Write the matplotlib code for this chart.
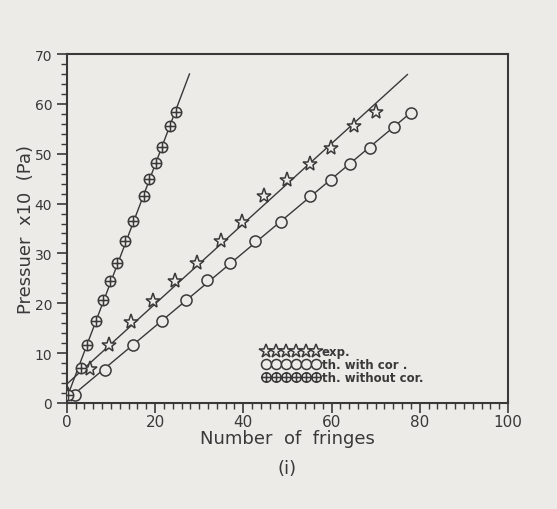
import numpy as np
import matplotlib
matplotlib.use("Agg")
import matplotlib.pyplot as plt
from matplotlib.path import Path
from matplotlib.ticker import MultipleLocator

# pressure readings (x10 Pa) vs number of fringes
exp_x = [0.3, 5.2, 9.6, 14.5, 19.6, 24.5, 29.5, 34.9, 39.7, 44.8, 49.9, 55.1, 59.9, 65.2, 70.0]
exp_y = [1.6, 6.8, 11.7, 16.2, 20.4, 24.4, 28.0, 32.5, 36.3, 41.5, 44.8, 47.9, 51.2, 55.5, 58.4]

cor_x = [1.8, 8.6, 15.1, 21.5, 27.0, 31.7, 37.0, 42.7, 48.5, 55.1, 59.8, 64.2, 68.7, 74.2, 78.1]
cor_y = [1.6, 6.7, 11.7, 16.4, 20.6, 24.6, 28.0, 32.4, 36.4, 41.6, 44.7, 48.0, 51.2, 55.4, 58.1]

nocor_x = [0.3, 3.3, 4.5, 6.5, 8.1, 9.8, 11.4, 13.2, 15.1, 17.5, 18.7, 20.2, 21.5, 23.4, 24.8]
nocor_y = [1.6, 7.0, 11.7, 16.4, 20.7, 24.4, 28.0, 32.5, 36.5, 41.6, 44.9, 48.1, 51.4, 55.5, 58.4]

# end of each fitted line (fringes)
line_end = {"exp": 77.2, "cor": 78.1, "nocor": 27.8}

paper = "#edebe8"
ink = "#3a3838"

# circle with a cross through it
circ = Path.unit_circle()
cross = Path([(-1, 0), (1, 0), (0, -1), (0, 1)],
             [Path.MOVETO, Path.LINETO, Path.MOVETO, Path.LINETO])
oplus = Path.make_compound_path(circ, cross)

fig = plt.figure(figsize=(5.57, 5.10), dpi=100, facecolor=paper)
ax = fig.add_axes([0.120, 0.208, 0.792, 0.684], facecolor=paper)

series = [
    ("exp", exp_x, exp_y, "*", 11, "exp."),
    ("cor", cor_x, cor_y, "o", 8, "th. with cor ."),
    ("nocor", nocor_x, nocor_y, oplus, 7.5, "th. without cor."),
]

for key, xs, ys, mk, ms, lab in series:
    xs = np.array(xs)
    ys = np.array(ys)
    k, b = np.polyfit(xs, ys, 1)
    xl = np.array([0, line_end[key]])
    ax.plot(xl, k * xl + b, color=ink, lw=1.0, zorder=2)
    ax.plot(xs, ys, ls="none", marker=mk, ms=ms, mfc=paper, mec=ink,
            mew=1.1, zorder=3)
    # legend entry: row of overlapping markers
    ax.plot([], [], ls="none", marker=mk, ms=ms, mfc=paper, mec=ink,
            mew=1.1, label=lab)

leg = ax.legend(loc="lower left", bbox_to_anchor=(0.425, 0.03), numpoints=6,
                handlelength=4.8, handletextpad=0.2, labelspacing=0.0,
                markerscale=0.9, frameon=False, fontsize=8.5, borderpad=0.2)
for t in leg.get_texts():
    t.set_color(ink)
    t.set_fontweight("bold")

ax.set_xlim(0, 100)
ax.set_ylim(0, 70)
ax.xaxis.set_major_locator(MultipleLocator(20))
ax.xaxis.set_minor_locator(MultipleLocator(2))
ax.yaxis.set_major_locator(MultipleLocator(10))
ax.yaxis.set_minor_locator(MultipleLocator(2))
ax.tick_params(which="major", length=7, width=1.2, colors=ink, labelsize=11)
ax.tick_params(which="minor", length=4, width=1.0, colors=ink)
ax.tick_params(axis="x", pad=1)
ax.tick_params(axis="y", labelsize=10)
for s in ax.spines.values():
    s.set_color(ink)
    s.set_linewidth(1.5)

ax.set_xlabel("Number  of  fringes", fontsize=13, color=ink, labelpad=0)
ax.set_ylabel("Pressuer  x10  (Pa)", fontsize=13, color=ink, labelpad=0)
fig.text(0.515, 0.070, "(i)", fontsize=13, color=ink, ha="center")

fig.savefig("out.png", dpi=100, facecolor=paper)
